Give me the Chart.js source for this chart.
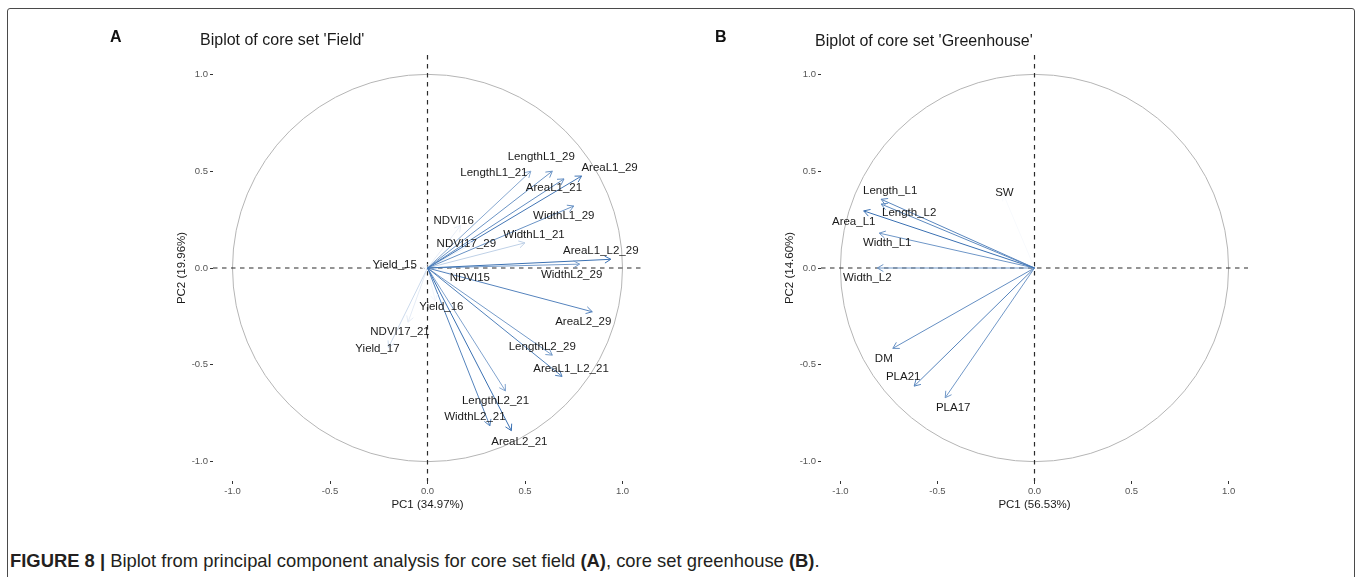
<!DOCTYPE html>
<html>
<head>
<meta charset="utf-8">
<script src="https://cdn.jsdelivr.net/npm/chart.js@4.4.1/dist/chart.umd.min.js"></script>
<style>
  html, body { margin: 0; padding: 0; background: #fff; }
  #fig { position: relative; width: 1358px; height: 577px; overflow: hidden;
         font-family: "Liberation Sans", Arial, sans-serif; }
  #frame { position: absolute; left: 7px; top: 8px; width: 1348px; height: 640px;
           border: 1.3px solid #4a4a4a; border-radius: 3px; box-sizing: border-box; }
  canvas { position: absolute; top: 0; }
  .letter { position: absolute; font-weight: bold; font-size: 16px; line-height: 1;
            color: #111; transform: translateY(-50%); }
  .ptitle { position: absolute; font-size: 16px; line-height: 1; color: #1a1a1a;
            transform: translateY(-50%); white-space: nowrap; }
  #caption { position: absolute; left: 10px; top: 561px; line-height: 1; white-space: nowrap;
             transform: translateY(-50%); color: #231f20; font-size: 20px;
             font-family: "Liberation Sans Narrow", "Liberation Sans", Arial, sans-serif; }
</style>
</head>
<body>
<div id="fig">
  <div id="frame"></div>
  <canvas id="panelA" width="679" height="520" style="left:0px"></canvas>
  <canvas id="panelB" width="679" height="520" style="left:679px"></canvas>
  <div class="letter" style="left:110px; top:37px">A</div>
  <div class="ptitle" style="left:200px; top:40px">Biplot of core set 'Field'</div>
  <div class="letter" style="left:715px; top:37px">B</div>
  <div class="ptitle" style="left:815px; top:41px">Biplot of core set 'Greenhouse'</div>
  <div id="caption"><b>FIGURE 8 |</b> Biplot from principal component analysis for core set field <b>(A)</b>, core set greenhouse <b>(B)</b>.</div>
</div>
<script>
// ---- variable loadings (PC1, PC2) ----
const tickValues = [-1.0, -0.5, 0.0, 0.5, 1.0];

const fieldVars = ['LengthL1_29', 'LengthL1_21', 'AreaL1_29', 'AreaL1_21', 'WidthL1_29', 'NDVI16',
  'WidthL1_21', 'NDVI17_29', 'AreaL1_L2_29', 'WidthL2_29', 'Yield_15', 'NDVI15', 'Yield_16',
  'AreaL2_29', 'NDVI17_21', 'Yield_17', 'LengthL2_29', 'AreaL1_L2_21', 'LengthL2_21',
  'WidthL2_21', 'AreaL2_21'];
const fieldPC1 = [0.64, 0.53, 0.79, 0.70, 0.75, 0.17, 0.50, 0.24, 0.94, 0.78, -0.03, 0.14, 0.04,
  0.845, -0.10, -0.20, 0.64, 0.69, 0.40, 0.32, 0.43];
const fieldPC2 = [0.50, 0.50, 0.475, 0.46, 0.32, 0.22, 0.13, 0.13, 0.045, 0.02, 0.005, -0.03, -0.17,
  -0.226, -0.28, -0.41, -0.45, -0.56, -0.635, -0.815, -0.84];

const ghVars = ['Length_L1', 'Length_L2', 'Area_L1', 'Width_L1', 'Width_L2', 'SW', 'DM', 'PLA21', 'PLA17'];
const ghPC1 = [-0.79, -0.79, -0.88, -0.80, -0.81, -0.16, -0.73, -0.62, -0.46];
const ghPC2 = [0.355, 0.33, 0.295, 0.18, 0.0, 0.38, -0.415, -0.61, -0.67];

const fieldAxisTitles = ['PC1 (34.97%)', 'PC2 (19.96%)'];
const ghAxisTitles = ['PC1 (56.53%)', 'PC2 (14.60%)'];

// ---- label placement: pixel shift of each label centre from its arrow tip ----
const fieldLabelShift = {
  LengthL1_29: [-11, -14], LengthL1_21: [-37, 2], AreaL1_29: [28, -8], AreaL1_21: [-10, 9],
  WidthL1_29: [-10, 10], NDVI16: [-7, -5], WidthL1_21: [9, -8], NDVI17_29: [-8, 1],
  AreaL1_L2_29: [-10, -8], WidthL2_29: [-8, 11], Yield_15: [-27, -2], NDVI15: [15, 4],
  Yield_16: [6, 6], AreaL2_29: [-9, 10], NDVI17_21: [-8, 10], Yield_17: [-11, 1],
  LengthL2_29: [-10, -8], AreaL1_L2_21: [9, -8], LengthL2_21: [-10, 10], WidthL2_21: [-15, -9],
  AreaL2_21: [8, 11]
};
const ghLabelShift = {
  Length_L1: [9, -8], Length_L2: [28, 9], Area_L1: [-10, 11], Width_L1: [8, 10],
  Width_L2: [-10, 10], SW: [1, -2], DM: [-9, 10], PLA21: [-11, -9], PLA17: [8, 10]
};

const FONT = '"Liberation Sans", Arial, sans-serif';
const LOW = [248, 250, 253], HIGH = [58, 112, 178];

// colour each arrow by its quality of representation (cos2), scaled within the panel
function cos2Colours(pc1, pc2) {
  const c = pc1.map((v, i) => v * v + pc2[i] * pc2[i]);
  const lo = Math.min(...c), hi = Math.max(...c);
  return c.map(v => {
    const t = (v - lo) / (hi - lo);
    const rgb = LOW.map((l, k) => Math.round(l + (HIGH[k] - l) * t));
    return { cos2: v, color: `rgb(${rgb.join(',')})` };
  });
}

const biplotPlugin = {
  id: 'biplot',
  beforeDatasetsDraw(chart) {
    const { ctx, chartArea: a, scales: { x, y } } = chart;
    const cx = x.getPixelForValue(0), cy = y.getPixelForValue(0);
    const rx = x.getPixelForValue(1) - cx, ry = cy - y.getPixelForValue(1);
    ctx.save();
    ctx.strokeStyle = '#b5b5b5';
    ctx.lineWidth = 1;
    ctx.beginPath();
    ctx.ellipse(cx, cy, rx, ry, 0, 0, Math.PI * 2);
    ctx.stroke();
    ctx.strokeStyle = '#2b2b2b';
    ctx.lineWidth = 1.2;
    ctx.setLineDash([4.5, 4.5]);
    ctx.beginPath();
    ctx.moveTo(a.left, cy); ctx.lineTo(a.right, cy);
    ctx.moveTo(cx, a.top); ctx.lineTo(cx, a.bottom);
    ctx.stroke();
    ctx.restore();
  },
  afterDatasetsDraw(chart, args, opts) {
    const ctx = chart.ctx;
    ctx.save();
    // open arrowheads
    chart.data.datasets.forEach((ds, i) => {
      const pts = chart.getDatasetMeta(i).data;
      const p0 = pts[0], p1 = pts[1];
      const ang = Math.atan2(p1.y - p0.y, p1.x - p0.x);
      const L = 7, s = Math.PI / 6;
      ctx.strokeStyle = ds.borderColor;
      ctx.lineWidth = 1;
      ctx.beginPath();
      ctx.moveTo(p1.x - L * Math.cos(ang - s), p1.y - L * Math.sin(ang - s));
      ctx.lineTo(p1.x, p1.y);
      ctx.lineTo(p1.x - L * Math.cos(ang + s), p1.y - L * Math.sin(ang + s));
      ctx.stroke();
    });
    // variable names
    ctx.fillStyle = '#1a1a1a';
    ctx.font = '11.5px ' + FONT;
    ctx.textAlign = 'center';
    ctx.textBaseline = 'middle';
    chart.data.datasets.forEach((ds, i) => {
      const p1 = chart.getDatasetMeta(i).data[1];
      const sh = opts.shift[ds.label] || [0, 0];
      ctx.fillText(ds.label, p1.x + sh[0], p1.y + sh[1]);
    });
    ctx.restore();
  },
  afterDraw(chart, args, opts) {
    const { ctx, chartArea: a } = chart;
    ctx.save();
    ctx.fillStyle = '#1a1a1a';
    ctx.font = '11.5px ' + FONT;
    ctx.textAlign = 'center';
    ctx.textBaseline = 'middle';
    ctx.fillText(opts.titles[0], (a.left + a.right) / 2, a.bottom + 24);
    ctx.translate(a.left - 31, (a.top + a.bottom) / 2);
    ctx.rotate(-Math.PI / 2);
    ctx.fillText(opts.titles[1], 0, 0);
    ctx.restore();
  }
};

function axisOptions(fit) {
  return {
    type: 'linear', min: -1.1, max: 1.1,
    afterFit: fit,
    afterBuildTicks(s) { s.ticks = tickValues.map(v => ({ value: v })); },
    ticks: { callback: v => Number(v).toFixed(1), font: { size: 9.5, family: FONT },
             color: '#555', padding: 2, maxRotation: 0, autoSkip: false },
    grid: { drawOnChartArea: false, drawTicks: true, tickLength: 3, color: '#333', lineWidth: 1 },
    border: { display: false }
  };
}

function makePanel(id, vars, pc1, pc2, shift, titles, area) {
  const canvas = document.getElementById(id);
  const W = canvas.width, H = canvas.height;
  const cols = cos2Colours(pc1, pc2);
  const datasets = vars.map((name, i) => ({
    label: name,
    data: [{ x: 0, y: 0 }, { x: pc1[i], y: pc2[i] }],
    borderColor: cols[i].color,
    borderWidth: 1,
    pointRadius: 0,
    fill: false,
    cos2: cols[i].cos2
  })).sort((a, b) => b.cos2 - a.cos2);   // strongest arrows drawn on top
  return new Chart(canvas, {
    type: 'line',
    data: { datasets },
    options: {
      responsive: false,
      animation: false,
      layout: { padding: { left: 0, top: area.top, right: W - area.right, bottom: 0 } },
      plugins: { legend: { display: false }, tooltip: { enabled: false },
                 biplot: { shift, titles } },
      scales: {
        x: axisOptions(s => { s.height = H - area.bottom; }),
        y: axisOptions(s => { s.width = area.left; })
      }
    },
    plugins: [biplotPlugin]
  });
}

makePanel('panelA', fieldVars, fieldPC1, fieldPC2, fieldLabelShift, fieldAxisTitles,
          { left: 213, top: 55, right: 642, bottom: 481 });
makePanel('panelB', ghVars, ghPC1, ghPC2, ghLabelShift, ghAxisTitles,
          { left: 142, top: 55, right: 569, bottom: 481 });

// caption set to its measured line length
const cap = document.getElementById('caption');
const w = cap.getBoundingClientRect().width;
cap.style.fontSize = (20 * 810 / w).toFixed(2) + 'px';
</script>
</body>
</html>
